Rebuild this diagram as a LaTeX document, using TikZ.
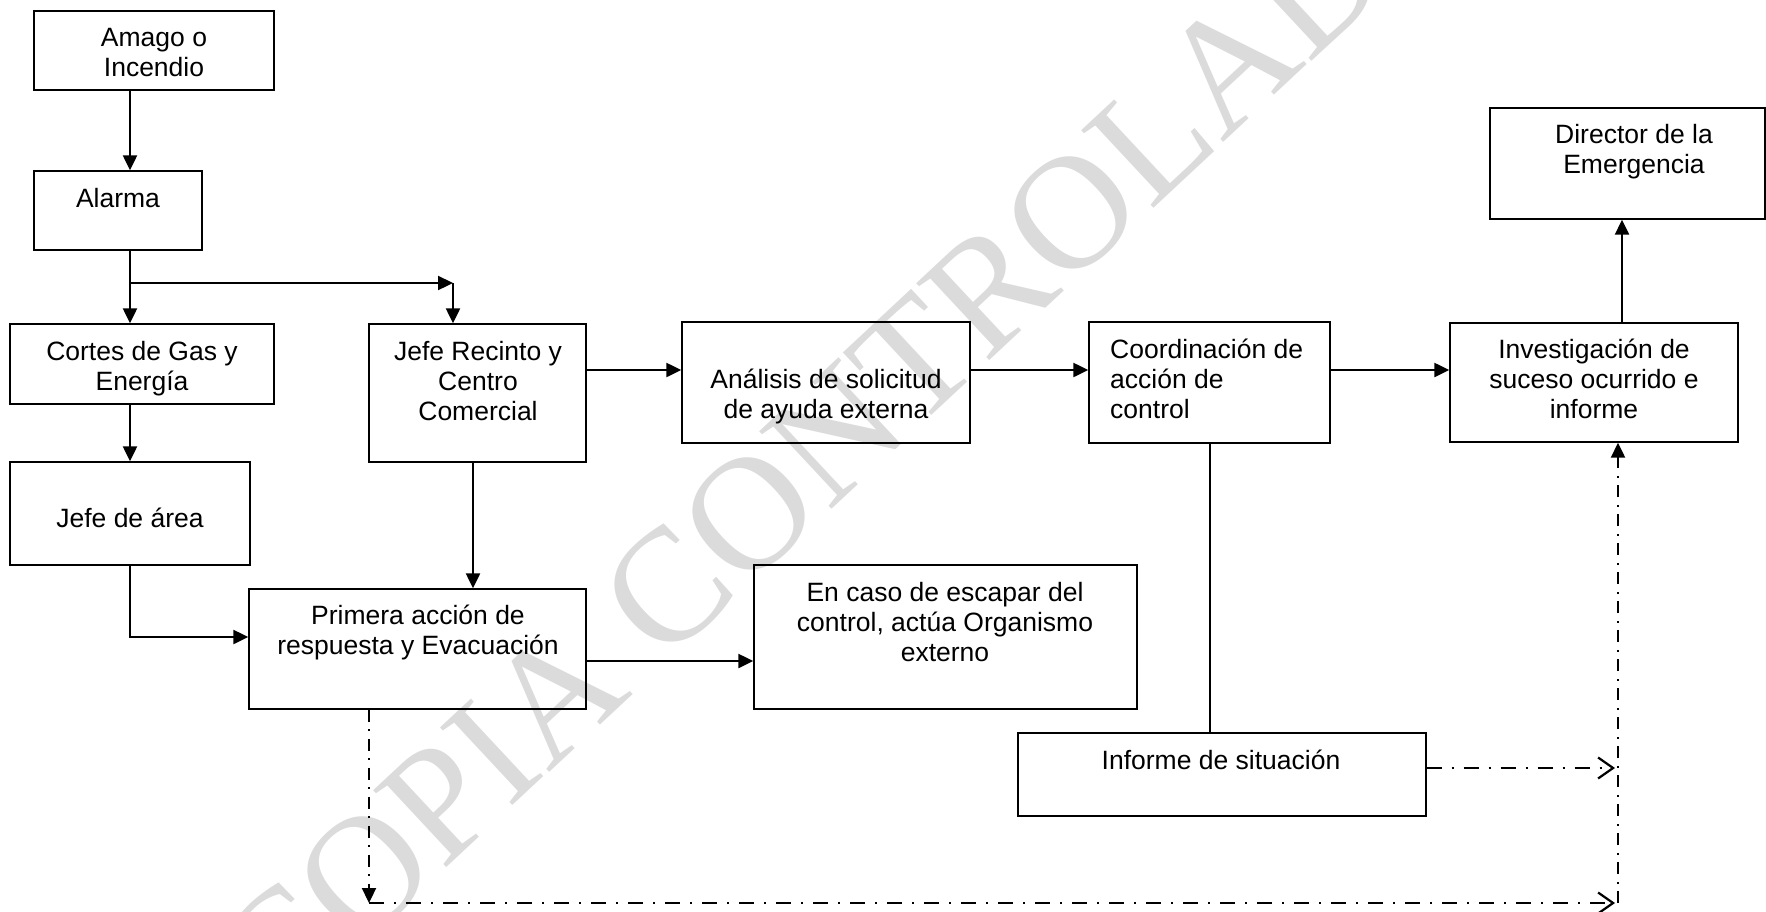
\documentclass[tikz,border=0pt]{standalone}
\usepackage{fontspec}
\setmainfont{Liberation Sans}
\newfontfamily\wmfont{Liberation Serif}
\usetikzlibrary{arrows.meta,fit}
\tikzset{
  box/.style={draw, line width=1.4pt, inner sep=0pt, rectangle},
  txt/.style={inner sep=0pt, font=\fontsize{26.5}{30.2}\selectfont},
  conn/.style={line width=2.3pt, -{Triangle[length=15pt,width=14pt]}},
  plainline/.style={line width=1.4pt},
  ddv/.style={line width=2.2pt, dash pattern=on 12pt off 7.5pt on 2pt off 7.5pt},
  ddh/.style={line width=2.2pt, dash pattern=on 15pt off 10pt on 2pt off 10pt},
  filltip/.style={-{Triangle[length=15pt,width=14pt]}},
  opentip/.style={-{Straight Barb[length=15pt,width=21pt]}},
  wmark/.style={inner sep=0pt, text=black!14, font=\wmfont\fontsize{162}{162}\selectfont}
}
\newcommand{\ctab}[1]{\begin{tabular}[t]{@{}c@{}}#1\end{tabular}}
\newcommand{\ltab}[1]{\begin{tabular}[t]{@{}l@{}}#1\end{tabular}}
\begin{document}
\begin{tikzpicture}[x=1pt,y=-1pt]
\useasboundingbox (0,0) rectangle (1766,911);
% watermark
\node[wmark, rotate=43] (wm) at (843,426) {COPIA CONTROLADA};
% boxes
\node[box, fit={(34,11)(274,90)}] (amago) {};
\node[box, fit={(34,171)(202,250)}] (alarma) {};
\node[box, fit={(10,324)(274,404)}] (cortes) {};
\node[box, fit={(369,324)(586,462)}] (jefer) {};
\node[box, fit={(10,462)(250,565)}] (jefea) {};
\node[box, fit={(249,589)(586,709)}] (primera) {};
\node[box, fit={(682,322)(970,443)}] (analisis) {};
\node[box, fit={(1089,322)(1330,443)}] (coord) {};
\node[box, fit={(754,565)(1137,709)}] (encaso) {};
\node[box, fit={(1018,733)(1426,816)}] (informe) {};
\node[box, fit={(1490,108)(1765,219)}] (director) {};
\node[box, fit={(1450,323)(1738,442)}] (invest) {};
% texts
\node[txt, anchor=base] (tamago) at (154,46) {\ctab{Amago o\\Incendio}};
\node[txt, anchor=base] (talarma) at (118,207) {Alarma};
\node[txt, anchor=base] (tcortes) at (142,360) {\ctab{Cortes de Gas y\\Energía}};
\node[txt, anchor=base] (tjefer) at (478,360) {\ctab{Jefe Recinto y\\Centro\\Comercial}};
\node[txt, anchor=base] (tjefea) at (130,527) {Jefe de área};
\node[txt, anchor=base] (tprimera) at (418,624) {\ctab{Primera acción de\\respuesta y Evacuación}};
\node[txt, anchor=base] (tanalisis) at (826,388) {\ctab{Análisis de solicitud\\de ayuda externa}};
\node[txt, anchor=base west] (tcoord) at (1110,358) {\ltab{Coordinación de\\acción de\\control}};
\node[txt, anchor=base] (tencaso) at (945,601) {\ctab{En caso de escapar del\\control, actúa Organismo\\externo}};
\node[txt, anchor=base] (tinforme) at (1221,769) {Informe de situación};
\node[txt, anchor=base] (tdirector) at (1634,143) {\ctab{Director de la\\Emergencia}};
\node[txt, anchor=base] (tinvest) at (1594,358) {\ctab{Investigación de\\suceso ocurrido e\\informe}};
% helper coordinates
\coordinate (br) at (130,283);
\coordinate (brr) at (453,283);
\coordinate (jl) at (130,637);
\coordinate (jx) at (473,0);
\coordinate (ya) at (0,370);
\coordinate (xd) at (1622,0);
\coordinate (yp) at (0,661);
\coordinate (xc) at (1210,0);
\coordinate (xp) at (369,0);
\coordinate (bl) at (369,903);
\coordinate (bv) at (1618,903);
\coordinate (ar) at (1615,903);
\coordinate (yi) at (0,768);
% solid connectors
\draw[conn] (amago.south -| br) -- (alarma.north -| br);
\draw[conn] (alarma.south -| br) -- (cortes.north -| br);
\draw[conn] (br) -- (brr);
\draw[conn] (brr) -- (jefer.north -| brr);
\draw[conn] (cortes.south -| br) -- (jefea.north -| br);
\draw[conn] (jefea.south -| jl) -- (jl) -- (primera.west |- jl);
\draw[conn] (jefer.south -| jx) -- (primera.north -| jx);
\draw[conn] (jefer.east |- ya) -- (analisis.west |- ya);
\draw[conn] (analisis.east |- ya) -- (coord.west |- ya);
\draw[conn] (coord.east |- ya) -- (invest.west |- ya);
\draw[conn] (invest.north -| xd) -- (director.south -| xd);
\draw[conn] (primera.east |- yp) -- (encaso.west |- yp);
\draw[plainline] (coord.south -| xc) -- (informe.north -| xc);
% dash-dot connectors
\draw[ddv, filltip] (primera.south -| xp) -- (bl);
\draw[ddh, opentip] (bl) -- (ar);
\draw[ddv, filltip] (bv) -- (invest.south -| bv);
\draw[ddh, opentip] (informe.east |- yi) -- (ar |- yi);
\end{tikzpicture}
\end{document}
